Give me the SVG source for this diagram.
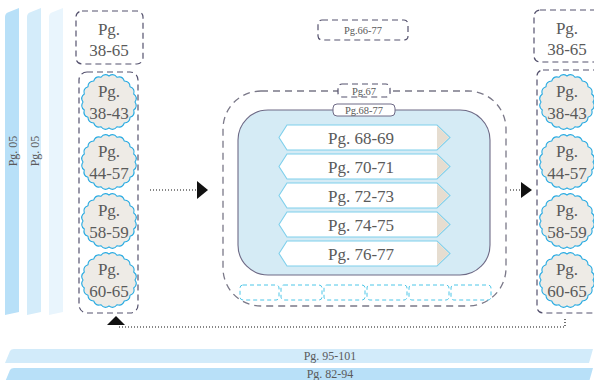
<svg xmlns="http://www.w3.org/2000/svg" width="594" height="380" viewBox="0 0 594 380">
<defs>
<style>
.t{font-family:"Liberation Serif","Times New Roman",serif;fill:#5a5a5a;text-anchor:middle}
.big{font-size:17px}
.sm{font-size:10.5px}
.md{font-size:12px}
.dash{fill:none;stroke:#55526e;stroke-width:1.2;stroke-dasharray:6 4}
.dashw{fill:#fff;stroke:#55526e;stroke-width:1.2;stroke-dasharray:6 4}
.outer{fill:none;stroke:#7a7888;stroke-width:1.3;stroke-dasharray:7 5}
.wav{fill:#eeebe6;stroke:#29abe2;stroke-width:1.1}
.ban{fill:#fff;stroke:#7fd0ec;stroke-width:1.1}
.tip{fill:#e6ddd0}
.cy{fill:none;stroke:#4cc6e8;stroke-width:1;stroke-dasharray:4 3}
.dot{fill:none;stroke:#111;stroke-width:1.2;stroke-dasharray:1 2}
</style>
<path id="wave" d="M26,0 Q29.14,4.61 24.73,8.03 Q26.28,13.39 21.03,15.28 Q20.86,20.86 15.28,21.03 Q13.39,26.28 8.03,24.73 Q4.61,29.14 0,26 Q-4.61,29.14 -8.03,24.73 Q-13.39,26.28 -15.28,21.03 Q-20.86,20.86 -21.03,15.28 Q-26.28,13.39 -24.73,8.03 Q-29.14,4.61 -26,0 Q-29.14,-4.61 -24.73,-8.03 Q-26.28,-13.39 -21.03,-15.28 Q-20.86,-20.86 -15.28,-21.03 Q-13.39,-26.28 -8.03,-24.73 Q-4.61,-29.14 0,-26 Q4.61,-29.14 8.03,-24.73 Q13.39,-26.28 15.28,-21.03 Q20.86,-20.86 21.03,-15.28 Q26.28,-13.39 24.73,-8.03 Q29.14,-4.61 26,0 Z"/>
<g id="banner">
<polygon class="ban" points="-83,0 -75,-12.5 75,-12.5 88,0 75,12.5 -75,12.5"/>
<polygon class="tip" points="75,-11.8 87,0 75,11.8"/>
</g>
</defs>

<!-- vertical side bars -->
<g id="vbar1">
<path d="M5,17 Q5,13 9,12 L19,8 L19,312 L5,315 Z" fill="#b8e0f8"/>
<text class="t md" transform="translate(13,151) rotate(-90)" dominant-baseline="central">Pg. 05</text>
</g>
<g id="vbar2">
<path d="M27,17 Q27,13 31,12 L41,8 L41,312 L27,315 Z" fill="#d4ecfa"/>
<text class="t md" transform="translate(35,151) rotate(-90)" dominant-baseline="central">Pg. 05</text>
</g>
<g id="vbar3">
<path d="M49,17 Q49,13 53,12 L63,8 L63,312 L49,315 Z" fill="#e9f5fd"/>
</g>

<!-- bottom bars -->
<g id="hbar1">
<path d="M5,363 L10,351 Q11,349 14,349 L593,349 L589,363 Z" fill="#d2ebfa"/>
<text class="t md" x="330" y="360">Pg. 95-101</text>
</g>
<g id="hbar2">
<path d="M5,382 L10,370 Q11,368 14,368 L593,368 L589,382 Z" fill="#b8e0f8"/>
<text class="t md" x="330" y="377.5">Pg. 82-94</text>
</g>

<!-- left column -->
<g id="leftTop">
<rect class="dashw" x="76" y="11" width="67" height="53" rx="6"/>
<text class="t big" x="109" y="35">Pg.</text>
<text class="t big" x="109" y="56">38-65</text>
</g>
<g id="leftCol">
<rect class="dash" x="79" y="72" width="59" height="241" rx="8"/>
</g>
<g id="l1"><use href="#wave" class="wav" x="109" y="102"/><text class="t big" x="109" y="97">Pg.</text><text class="t big" x="109" y="119">38-43</text></g>
<g id="l2"><use href="#wave" class="wav" x="109" y="162"/><text class="t big" x="109" y="157">Pg.</text><text class="t big" x="109" y="179">44-57</text></g>
<g id="l3"><use href="#wave" class="wav" x="109" y="221"/><text class="t big" x="109" y="216">Pg.</text><text class="t big" x="109" y="238">58-59</text></g>
<g id="l4"><use href="#wave" class="wav" x="109" y="280"/><text class="t big" x="109" y="275">Pg.</text><text class="t big" x="109" y="297">60-65</text></g>

<!-- right column -->
<g id="rightTop">
<rect class="dashw" x="534" y="10" width="72" height="52" rx="6"/>
<text class="t big" x="567" y="34">Pg.</text>
<text class="t big" x="567" y="55">38-65</text>
</g>
<g id="rightCol">
<rect class="dash" x="537" y="70" width="72" height="243" rx="6"/>
</g>
<g id="r1"><use href="#wave" class="wav" x="567" y="102"/><text class="t big" x="567" y="97">Pg.</text><text class="t big" x="567" y="119">38-43</text></g>
<g id="r2"><use href="#wave" class="wav" x="567" y="162"/><text class="t big" x="567" y="157">Pg.</text><text class="t big" x="567" y="179">44-57</text></g>
<g id="r3"><use href="#wave" class="wav" x="567" y="221"/><text class="t big" x="567" y="216">Pg.</text><text class="t big" x="567" y="238">58-59</text></g>
<g id="r4"><use href="#wave" class="wav" x="567" y="280"/><text class="t big" x="567" y="275">Pg.</text><text class="t big" x="567" y="297">60-65</text></g>

<!-- top center label -->
<g id="top66">
<rect class="dash" x="318" y="20" width="90" height="20" rx="4" stroke="#7a7888"/>
<text class="t sm" x="363" y="34">Pg.66-77</text>
</g>

<!-- central group -->
<g id="outer67">
<rect class="outer" x="223" y="91" width="283" height="215" rx="38"/>
<rect x="338" y="84" width="52" height="13" rx="4" fill="#fff" stroke="#55526e" stroke-width="1.2" stroke-dasharray="6 4"/>
<text class="t sm" x="364" y="94.5">Pg.67</text>
</g>
<g id="inner6877">
<rect x="238" y="110" width="252" height="165" rx="30" fill="#d5ebf5" stroke="#6e6a86" stroke-width="1.1"/>
<rect x="333" y="104" width="62" height="12" rx="4" fill="#fff" stroke="#6e6a86" stroke-width="1"/>
<text class="t sm" x="364" y="114">Pg.68-77</text>
</g>
<g id="b1"><use href="#banner" x="362" y="137.5"/><text class="t big" x="361" y="143.5">Pg. 68-69</text></g>
<g id="b2"><use href="#banner" x="362" y="166.5"/><text class="t big" x="361" y="172.5">Pg. 70-71</text></g>
<g id="b3"><use href="#banner" x="362" y="195.5"/><text class="t big" x="361" y="201.5">Pg. 72-73</text></g>
<g id="b4"><use href="#banner" x="362" y="224.5"/><text class="t big" x="361" y="230.5">Pg. 74-75</text></g>
<g id="b5"><use href="#banner" x="362" y="253.5"/><text class="t big" x="361" y="259.5">Pg. 76-77</text></g>
<g id="slots">
<rect class="cy" x="240" y="285" width="39" height="15" rx="3"/>
<rect class="cy" x="281" y="285" width="41" height="15" rx="3"/>
<rect class="cy" x="324" y="285" width="41" height="15" rx="3"/>
<rect class="cy" x="367" y="285" width="40" height="15" rx="3"/>
<rect class="cy" x="409" y="285" width="40" height="15" rx="3"/>
<rect class="cy" x="451" y="285" width="40" height="15" rx="3"/>
</g>

<!-- connectors -->
<g id="connectors">
<line class="dot" x1="150" y1="190" x2="197" y2="190"/>
<polygon points="197,181 208,190 197,199" fill="#111"/>
<line class="dot" x1="510" y1="190" x2="521" y2="190"/>
<polygon points="521,182 532,190 521,198" fill="#111"/>
<polyline class="dot" points="119,327 565,327 565,319"/>
<polygon points="116,316 107,325 125,325" fill="#111"/>
</g>
</svg>
